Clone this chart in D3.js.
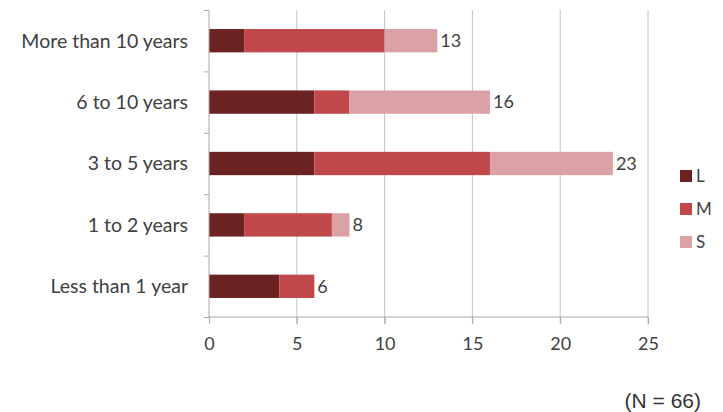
<!DOCTYPE html>
<html>
<head>
<meta charset="utf-8">
<script src="https://cdn.jsdelivr.net/npm/d3@7"></script>
<style>
  body { margin: 0; background: #fff; }
  text { font-family: Lato, "Open Sans", sans-serif; fill: #404040; }
</style>
</head>
<body>
<script>
const svgW = 723;
const svgH = 412;

const categories = ['More than 10 years', '6 to 10 years', '3 to 5 years', '1 to 2 years', 'Less than 1 year'];
const seriesNames = ['L', 'M', 'S'];
const valuesL = [2, 6, 6, 2, 4];
const valuesM = [8, 2, 10, 5, 2];
const valuesS = [3, 8, 7, 1, 0];
const xTicks = [0, 5, 10, 15, 20, 25];
const colors = ['#6b2222', '#c0484b', '#dba2a5'];

const rows = categories.map((c, i) => ({ cat: c, L: valuesL[i], M: valuesM[i], S: valuesS[i] }));

const svg = d3.select('body')
              .append('svg')
              .attr('width', svgW)
              .attr('height', svgH);

// 坐标范围
const plotL = 209, plotR = 648, plotT = 10, plotB = 317;

const x = d3.scaleLinear().domain([0, 25]).range([plotL, plotR]);
const y = d3.scaleBand().domain(categories).range([plotT, plotB]).paddingInner(0.62).paddingOuter(0.31);
const color = d3.scaleOrdinal().domain(seriesNames).range(colors);

// 网格线
svg.append('g')
   .selectAll('line')
   .data(xTicks.slice(1))
   .enter()
   .append('line')
   .attr('x1', d => x(d)).attr('x2', d => x(d))
   .attr('y1', plotT).attr('y2', plotB + 7)
   .attr('stroke', '#c4c4c4').attr('stroke-width', 1);

const stacked = d3.stack().keys(seriesNames)(rows);

svg.append('g')
   .selectAll('g')
   .data(stacked)
   .enter()
   .append('g')
   .attr('fill', d => color(d.key))
   .selectAll('rect')
   .data(d => d)
   .enter()
   .append('rect')
   .attr('x', d => x(d[0]))
   .attr('y', d => y(d.data.cat))
   .attr('width', d => x(d[1]) - x(d[0]))
   .attr('height', y.bandwidth());

// 总数标签
svg.append('g')
   .selectAll('text')
   .data(rows)
   .enter()
   .append('text')
   .attr('x', d => x(d.L + d.M + d.S) + 3)
   .attr('y', d => y(d.cat) + y.bandwidth() / 2)
   .attr('dy', '0.35em')
   .style('font-size', '18px')
   .text(d => d.L + d.M + d.S);

// y 轴
const yAxis = d3.axisLeft(d3.scaleLinear().domain([0, 5]).range([plotT, plotB]))
                .ticks(5).tickSize(5).tickFormat('');
const gy = svg.append('g').attr('transform', `translate(${plotL},0)`).call(yAxis);
gy.selectAll('line, path').attr('stroke', '#a8a8a8');
gy.select('.domain').attr('d', `M0,${plotT}V${plotB}`);

svg.append('g')
   .selectAll('text')
   .data(categories)
   .enter()
   .append('text')
   .attr('x', 188)
   .attr('y', d => y(d) + y.bandwidth() / 2)
   .attr('dy', '0.35em')
   .attr('text-anchor', 'end')
   .style('font-size', '19.5px')
   .text(d => d);

// x 轴
const xAxis = d3.axisBottom(x).tickValues(xTicks).tickSize(7).tickPadding(13);
const gx = svg.append('g').attr('transform', `translate(0,${plotB})`).call(xAxis);
gx.selectAll('line, path').attr('stroke', '#a8a8a8');
gx.select('.domain').attr('d', `M${plotL},0H${plotR}`);
gx.selectAll('text').style('font-size', '18px').style('font-family', 'Lato, sans-serif').attr('fill', '#404040');

// 图例
const legend = svg.append('g')
                  .selectAll('g')
                  .data(seriesNames)
                  .enter()
                  .append('g')
                  .attr('transform', (d, i) => `translate(680, ${176 + i * 33})`);
legend.append('rect')
      .attr('x', 0).attr('y', -6)
      .attr('width', 12).attr('height', 12)
      .attr('fill', d => color(d));
legend.append('text')
      .attr('x', 16).attr('dy', '0.35em')
      .style('font-size', '17px')
      .text(d => d);

svg.append('text')
   .attr('x', 701).attr('y', 401)
   .attr('dy', '0.35em')
   .attr('text-anchor', 'end')
   .style('font-family', '"Liberation Sans", Arial, sans-serif')
   .style('font-size', '21px')
   .style('fill', '#333')
   .text('(N = 66)');
</script>
</body>
</html>
